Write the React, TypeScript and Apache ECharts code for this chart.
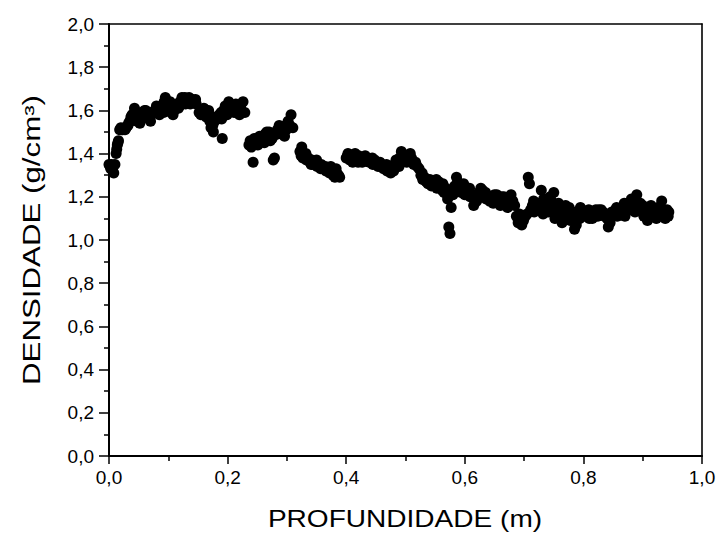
import React, { useEffect, useRef } from "react";
import * as echarts from "echarts";

const xTitle = "PROFUNDIDADE (m)";
const yTitle = "DENSIDADE (g/cm³)";

const depth: number[] = [
  0.000, 0.002, 0.004, 0.006, 0.008, 0.010, 0.012, 0.013, 0.015, 0.016, 0.018, 0.020, 0.023, 0.026, 0.029, 0.032, 0.035, 0.037, 0.040, 0.043,
  0.045, 0.047, 0.050, 0.052, 0.055, 0.058, 0.060, 0.063, 0.066, 0.068, 0.071, 0.074, 0.077, 0.080, 0.082, 0.085, 0.088, 0.090, 0.093, 0.095,
  0.098, 0.100, 0.103, 0.105, 0.108, 0.111, 0.114, 0.117, 0.120, 0.123, 0.126, 0.129, 0.132, 0.135, 0.138, 0.141, 0.144, 0.147, 0.152, 0.155,
  0.158, 0.161, 0.164, 0.167, 0.170, 0.172, 0.175, 0.178, 0.180, 0.183, 0.186, 0.189, 0.191, 0.193, 0.196, 0.199, 0.202, 0.205, 0.208, 0.211,
  0.214, 0.217, 0.220, 0.223, 0.226, 0.229, 0.236, 0.238, 0.240, 0.243, 0.245, 0.248, 0.251, 0.254, 0.257, 0.260, 0.263, 0.266, 0.269, 0.272,
  0.275, 0.277, 0.279, 0.281, 0.284, 0.287, 0.290, 0.293, 0.296, 0.299, 0.302, 0.305, 0.307, 0.310, 0.322, 0.325, 0.327, 0.330, 0.333, 0.336,
  0.339, 0.342, 0.345, 0.348, 0.351, 0.354, 0.357, 0.360, 0.363, 0.366, 0.369, 0.372, 0.375, 0.378, 0.381, 0.384, 0.387, 0.400, 0.403, 0.406,
  0.409, 0.412, 0.415, 0.418, 0.421, 0.424, 0.427, 0.430, 0.433, 0.436, 0.439, 0.442, 0.445, 0.448, 0.451, 0.454, 0.457, 0.460, 0.463, 0.466,
  0.469, 0.472, 0.475, 0.478, 0.481, 0.484, 0.487, 0.490, 0.493, 0.496, 0.499, 0.502, 0.505, 0.508, 0.511, 0.514, 0.517, 0.520, 0.523, 0.526,
  0.529, 0.532, 0.535, 0.538, 0.541, 0.544, 0.547, 0.550, 0.553, 0.556, 0.559, 0.562, 0.565, 0.568, 0.571, 0.573, 0.575, 0.577, 0.580, 0.583,
  0.586, 0.588, 0.591, 0.594, 0.597, 0.600, 0.603, 0.606, 0.609, 0.612, 0.615, 0.618, 0.621, 0.624, 0.627, 0.630, 0.633, 0.636, 0.639, 0.642,
  0.645, 0.648, 0.651, 0.654, 0.657, 0.660, 0.663, 0.666, 0.669, 0.672, 0.675, 0.678, 0.681, 0.684, 0.687, 0.690, 0.693, 0.696, 0.699, 0.702,
  0.705, 0.707, 0.709, 0.711, 0.714, 0.717, 0.720, 0.723, 0.726, 0.729, 0.732, 0.735, 0.738, 0.741, 0.744, 0.747, 0.750, 0.752, 0.755, 0.758,
  0.761, 0.764, 0.767, 0.770, 0.773, 0.776, 0.779, 0.782, 0.785, 0.788, 0.791, 0.794, 0.797, 0.800, 0.803, 0.806, 0.809, 0.812, 0.815, 0.818,
  0.821, 0.824, 0.827, 0.830, 0.833, 0.836, 0.839, 0.842, 0.845, 0.848, 0.851, 0.854, 0.857, 0.860, 0.863, 0.866, 0.869, 0.872, 0.875, 0.878,
  0.881, 0.884, 0.887, 0.890, 0.893, 0.896, 0.899, 0.902, 0.905, 0.908, 0.911, 0.914, 0.917, 0.920, 0.923, 0.926, 0.929, 0.932, 0.935, 0.938,
  0.941, 0.944,
  // second pass of readings (band thickness)
  0.003, 0.014, 0.021, 0.027, 0.033, 0.039, 0.048, 0.054, 0.062, 0.070, 0.079, 0.086, 0.092, 0.101, 0.110, 0.119, 0.128, 0.137, 0.146, 0.160,
  0.168, 0.176, 0.190, 0.203, 0.212, 0.222, 0.239, 0.250, 0.262, 0.270, 0.283, 0.292, 0.298, 0.324, 0.332, 0.341, 0.350, 0.358, 0.365, 0.374,
  0.383, 0.389, 0.402, 0.411, 0.420, 0.432, 0.444, 0.456, 0.468, 0.480, 0.489, 0.500, 0.510, 0.528, 0.540, 0.552, 0.563, 0.585, 0.598, 0.608,
  0.620, 0.635, 0.650, 0.662, 0.677, 0.692, 0.716, 0.733, 0.746, 0.760, 0.778, 0.795, 0.810, 0.826, 0.840, 0.856, 0.870, 0.886, 0.900, 0.915,
  0.930, 0.943,
];

const density: number[] = [
  1.35, 1.34, 1.35, 1.33, 1.31, 1.35, 1.40, 1.42, 1.45, 1.46, 1.51, 1.52, 1.51, 1.52, 1.52, 1.53, 1.55, 1.57, 1.56, 1.61,
  1.57, 1.55, 1.58, 1.54, 1.59, 1.57, 1.60, 1.58, 1.59, 1.56, 1.58, 1.59, 1.60, 1.62, 1.60, 1.58, 1.62, 1.60, 1.64, 1.66,
  1.63, 1.61, 1.64, 1.59, 1.58, 1.62, 1.63, 1.61, 1.64, 1.66, 1.65, 1.63, 1.64, 1.66, 1.64, 1.65, 1.64, 1.63, 1.59, 1.58,
  1.60, 1.59, 1.57, 1.58, 1.55, 1.52, 1.53, 1.55, 1.57, 1.56, 1.58, 1.59, 1.47, 1.60, 1.62, 1.58, 1.64, 1.60, 1.61, 1.59,
  1.63, 1.62, 1.58, 1.60, 1.64, 1.59, 1.44, 1.46, 1.43, 1.36, 1.47, 1.45, 1.44, 1.48, 1.46, 1.47, 1.49, 1.50, 1.48, 1.46,
  1.47, 1.37, 1.38, 1.49, 1.51, 1.53, 1.50, 1.52, 1.48, 1.51, 1.55, 1.53, 1.58, 1.52, 1.41, 1.43, 1.38, 1.39, 1.37, 1.38,
  1.36, 1.37, 1.35, 1.36, 1.34, 1.35, 1.33, 1.34, 1.33, 1.32, 1.33, 1.31, 1.32, 1.30, 1.29, 1.31, 1.30, 1.38, 1.40, 1.37,
  1.39, 1.38, 1.40, 1.37, 1.39, 1.38, 1.36, 1.38, 1.37, 1.38, 1.36, 1.37, 1.35, 1.37, 1.36, 1.34, 1.36, 1.35, 1.33, 1.34,
  1.32, 1.33, 1.31, 1.33, 1.35, 1.37, 1.36, 1.38, 1.41, 1.39, 1.37, 1.36, 1.38, 1.40, 1.37, 1.35, 1.36, 1.34, 1.33, 1.30,
  1.28, 1.29, 1.27, 1.26, 1.28, 1.25, 1.27, 1.26, 1.24, 1.27, 1.25, 1.23, 1.22, 1.24, 1.19, 1.06, 1.03, 1.15, 1.21, 1.25,
  1.29, 1.27, 1.23, 1.22, 1.24, 1.21, 1.23, 1.22, 1.20, 1.21, 1.16, 1.19, 1.20, 1.22, 1.24, 1.23, 1.21, 1.19, 1.20, 1.18,
  1.20, 1.17, 1.19, 1.21, 1.18, 1.16, 1.18, 1.20, 1.17, 1.15, 1.19, 1.21, 1.18, 1.16, 1.11, 1.08, 1.10, 1.07, 1.09, 1.11,
  1.12, 1.29, 1.26, 1.14, 1.16, 1.13, 1.15, 1.17, 1.14, 1.23, 1.12, 1.15, 1.17, 1.13, 1.20, 1.16, 1.22, 1.10, 1.13, 1.17,
  1.11, 1.08, 1.14, 1.16, 1.12, 1.15, 1.11, 1.13, 1.05, 1.07, 1.12, 1.10, 1.14, 1.12, 1.11, 1.13, 1.14, 1.12, 1.10, 1.13,
  1.14, 1.11, 1.12, 1.14, 1.13, 1.11, 1.12, 1.06, 1.08, 1.13, 1.12, 1.14, 1.11, 1.13, 1.12, 1.15, 1.17, 1.13, 1.16, 1.14,
  1.19, 1.16, 1.13, 1.21, 1.15, 1.17, 1.13, 1.11, 1.15, 1.09, 1.13, 1.16, 1.12, 1.14, 1.10, 1.15, 1.13, 1.18, 1.12, 1.10,
  1.14, 1.13,
  // second pass of readings (band thickness)
  1.33, 1.44, 1.51, 1.51, 1.54, 1.58, 1.57, 1.56, 1.60, 1.55, 1.59, 1.61, 1.59, 1.60, 1.60, 1.62, 1.66, 1.63, 1.65, 1.61,
  1.60, 1.50, 1.56, 1.60, 1.62, 1.62, 1.45, 1.46, 1.45, 1.50, 1.49, 1.49, 1.53, 1.39, 1.40, 1.35, 1.37, 1.35, 1.34, 1.34,
  1.33, 1.29, 1.39, 1.36, 1.36, 1.39, 1.38, 1.35, 1.35, 1.32, 1.34, 1.39, 1.38, 1.31, 1.27, 1.28, 1.26, 1.23, 1.26, 1.24,
  1.18, 1.22, 1.21, 1.20, 1.17, 1.12, 1.18, 1.19, 1.18, 1.15, 1.09, 1.15, 1.10, 1.14, 1.10, 1.15, 1.11, 1.18, 1.16, 1.11,
  1.15, 1.11,
];

const FONT = "'Liberation Sans', Arial, sans-serif";
const fmt = (v: number) => v.toFixed(1).replace(".", ",");

export default function App() {
  const ref = useRef<HTMLDivElement>(null);
  useEffect(() => {
    if (!ref.current) return;
    const chart = echarts.init(ref.current, null, { renderer: "svg" });
    const points = depth.map((d, i) => [d, density[i]]);
    const frameAxis = {
      type: "value",
      axisLine: { show: true, onZero: false, lineStyle: { color: "#000", width: 1.6 } },
      axisTick: { show: false },
      axisLabel: { show: false },
      splitLine: { show: false },
    };
    chart.setOption({
      animation: false,
      backgroundColor: "#fff",
      grid: {
        left: 109,
        right: 22,
        top: 24,
        bottom: 83,
        show: false,
      },
      xAxis: [
        {
          type: "value",
          min: 0,
          max: 1,
          interval: 0.2,
          axisLine: { show: true, onZero: false, lineStyle: { color: "#000", width: 2 } },
          axisTick: { show: true, inside: false, length: 8, lineStyle: { color: "#000", width: 1.5 } },
          minorTick: { show: true, splitNumber: 2, length: 5, lineStyle: { color: "#000", width: 1.5 } },
          splitLine: { show: false },
          axisLabel: { formatter: fmt, color: "#000", fontSize: 19, fontFamily: FONT, margin: 12 },
        },
        { ...frameAxis, position: "top", min: 0, max: 1 },
      ],
      yAxis: [
        {
          type: "value",
          min: 0,
          max: 2,
          interval: 0.2,
          axisLine: { show: true, onZero: false, lineStyle: { color: "#000", width: 2 } },
          axisTick: { show: true, inside: false, length: 10, lineStyle: { color: "#000", width: 1.5 } },
          minorTick: { show: true, splitNumber: 2, length: 5, lineStyle: { color: "#000", width: 1.5 } },
          splitLine: { show: false },
          axisLabel: { formatter: fmt, color: "#000", fontSize: 19, fontFamily: FONT, margin: 15 },
        },
        { ...frameAxis, position: "right", min: 0, max: 2 },
      ],
      graphic: [
        {
          type: "text",
          x: 405,
          y: 519,
          scaleX: 1.22,
          style: {
            text: xTitle,
            fill: "#000",
            fontSize: 23,
            fontFamily: FONT,
            align: "center",
            verticalAlign: "middle",
          },
        },
        {
          type: "text",
          x: 32,
          y: 240,
          rotation: Math.PI / 2,
          scaleX: 1.36,
          style: {
            text: yTitle,
            fill: "#000",
            fontSize: 23,
            fontFamily: FONT,
            align: "center",
            verticalAlign: "middle",
          },
        },
      ],
      series: [
        {
          type: "scatter",
          xAxisIndex: 0,
          yAxisIndex: 0,
          data: points,
          symbol: "circle",
          symbolSize: 11,
          itemStyle: { color: "#000", opacity: 1 },
        },
      ],
    });
    return () => chart.dispose();
  }, []);
  return <div ref={ref} style={{ width: 724, height: 539, position: "absolute", left: 0, top: 0 }} />;
}
